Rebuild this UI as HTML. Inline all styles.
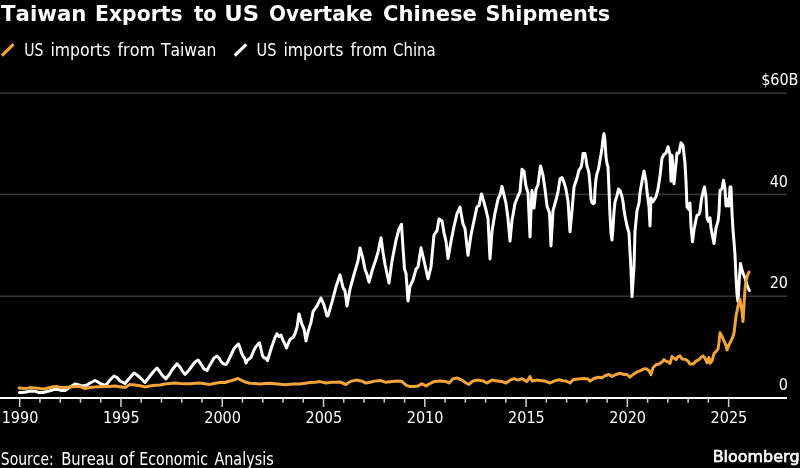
<!DOCTYPE html>
<html><head><meta charset="utf-8"><style>
html,body{margin:0;padding:0;background:#000;}
body{width:800px;height:468px;overflow:hidden;position:relative;}
svg{position:absolute;left:0;top:0;display:block;will-change:transform;}
.t{font-family:"DejaVu Sans Condensed","DejaVu Sans","Liberation Sans",sans-serif;fill:#fff;}
</style></head><body>
<svg width="800" height="468" viewBox="0 0 800 468">
<rect width="800" height="468" fill="#000"/>
<text x="1.10" y="21" textLength="85.30" lengthAdjust="spacingAndGlyphs" style="font-family:'DejaVu Sans','Liberation Sans',sans-serif;font-weight:bold;font-size:21.3px;font-kerning:none" fill="#fff">Taiwan</text>
<text x="95.09" y="21" textLength="87.42" lengthAdjust="spacingAndGlyphs" style="font-family:'DejaVu Sans','Liberation Sans',sans-serif;font-weight:bold;font-size:21.3px;font-kerning:none" fill="#fff">Exports</text>
<text x="194.00" y="21" textLength="22.74" lengthAdjust="spacingAndGlyphs" style="font-family:'DejaVu Sans','Liberation Sans',sans-serif;font-weight:bold;font-size:21.3px;font-kerning:none" fill="#fff">to</text>
<text x="224.36" y="21" textLength="34.89" lengthAdjust="spacingAndGlyphs" style="font-family:'DejaVu Sans','Liberation Sans',sans-serif;font-weight:bold;font-size:21.3px;font-kerning:none" fill="#fff">US</text>
<text x="269.06" y="21" textLength="103.53" lengthAdjust="spacingAndGlyphs" style="font-family:'DejaVu Sans','Liberation Sans',sans-serif;font-weight:bold;font-size:21.3px;font-kerning:none" fill="#fff">Overtake</text>
<text x="383.01" y="21" textLength="93.81" lengthAdjust="spacingAndGlyphs" style="font-family:'DejaVu Sans','Liberation Sans',sans-serif;font-weight:bold;font-size:21.3px;font-kerning:none" fill="#fff">Chinese</text>
<text x="485.62" y="21" textLength="124.56" lengthAdjust="spacingAndGlyphs" style="font-family:'DejaVu Sans','Liberation Sans',sans-serif;font-weight:bold;font-size:21.3px;font-kerning:none" fill="#fff">Shipments</text>
<text x="24.30" y="56" textLength="19.14" lengthAdjust="spacingAndGlyphs" style="font-family:'DejaVu Sans Condensed','DejaVu Sans','Liberation Sans',sans-serif;font-weight:normal;font-size:17.3px;font-kerning:none" fill="#fff">US</text>
<text x="50.49" y="56" textLength="59.95" lengthAdjust="spacingAndGlyphs" style="font-family:'DejaVu Sans Condensed','DejaVu Sans','Liberation Sans',sans-serif;font-weight:normal;font-size:17.3px;font-kerning:none" fill="#fff">imports</text>
<text x="117.50" y="56" textLength="37.56" lengthAdjust="spacingAndGlyphs" style="font-family:'DejaVu Sans Condensed','DejaVu Sans','Liberation Sans',sans-serif;font-weight:normal;font-size:17.3px;font-kerning:none" fill="#fff">from</text>
<text x="161.00" y="56" textLength="55.45" lengthAdjust="spacingAndGlyphs" style="font-family:'DejaVu Sans Condensed','DejaVu Sans','Liberation Sans',sans-serif;font-weight:normal;font-size:17.3px;font-kerning:none" fill="#fff">Taiwan</text>
<text x="256.56" y="56" textLength="19.88" lengthAdjust="spacingAndGlyphs" style="font-family:'DejaVu Sans Condensed','DejaVu Sans','Liberation Sans',sans-serif;font-weight:normal;font-size:17.3px;font-kerning:none" fill="#fff">US</text>
<text x="283.49" y="56" textLength="59.95" lengthAdjust="spacingAndGlyphs" style="font-family:'DejaVu Sans Condensed','DejaVu Sans','Liberation Sans',sans-serif;font-weight:normal;font-size:17.3px;font-kerning:none" fill="#fff">imports</text>
<text x="350.50" y="56" textLength="36.72" lengthAdjust="spacingAndGlyphs" style="font-family:'DejaVu Sans Condensed','DejaVu Sans','Liberation Sans',sans-serif;font-weight:normal;font-size:17.3px;font-kerning:none" fill="#fff">from</text>
<text x="393.04" y="56" textLength="42.56" lengthAdjust="spacingAndGlyphs" style="font-family:'DejaVu Sans Condensed','DejaVu Sans','Liberation Sans',sans-serif;font-weight:normal;font-size:17.3px;font-kerning:none" fill="#fff">China</text>
<text x="0.83" y="464.5" textLength="52.85" lengthAdjust="spacingAndGlyphs" style="font-family:'DejaVu Sans Condensed','DejaVu Sans','Liberation Sans',sans-serif;font-weight:normal;font-size:16.8px;font-kerning:none" fill="#fff">Source:</text>
<text x="61.22" y="464.5" textLength="53.00" lengthAdjust="spacingAndGlyphs" style="font-family:'DejaVu Sans Condensed','DejaVu Sans','Liberation Sans',sans-serif;font-weight:normal;font-size:16.8px;font-kerning:none" fill="#fff">Bureau</text>
<text x="118.94" y="464.5" textLength="15.38" lengthAdjust="spacingAndGlyphs" style="font-family:'DejaVu Sans Condensed','DejaVu Sans','Liberation Sans',sans-serif;font-weight:normal;font-size:16.8px;font-kerning:none" fill="#fff">of</text>
<text x="139.36" y="464.5" textLength="68.67" lengthAdjust="spacingAndGlyphs" style="font-family:'DejaVu Sans Condensed','DejaVu Sans','Liberation Sans',sans-serif;font-weight:normal;font-size:16.8px;font-kerning:none" fill="#fff">Economic</text>
<text x="214.40" y="464.5" textLength="59.29" lengthAdjust="spacingAndGlyphs" style="font-family:'DejaVu Sans Condensed','DejaVu Sans','Liberation Sans',sans-serif;font-weight:normal;font-size:16.8px;font-kerning:none" fill="#fff">Analysis</text>
<text x="712.69" y="461.6" textLength="86.99" lengthAdjust="spacingAndGlyphs" style="font-family:'DejaVu Sans','Liberation Sans',sans-serif;font-weight:normal;font-size:15.0px;font-kerning:none" fill="#fff" stroke="#fff" stroke-width="0.6">Bloomberg</text>
<line x1="1.9" y1="55.7" x2="13.6" y2="44.2" stroke="#f2a33a" stroke-width="3.2"/>
<line x1="234.7" y1="55.7" x2="246.3" y2="44.3" stroke="#fff" stroke-width="3.2"/>
<g stroke="#353535" stroke-width="1.6">
<line x1="0" y1="93.3" x2="787" y2="93.3"/>
<line x1="0" y1="194.4" x2="787" y2="194.4"/>
<line x1="0" y1="296.3" x2="787" y2="296.3"/>
</g>
<g class="t" font-size="16" text-anchor="end">
<text x="788.6" y="85">$60</text>
<text x="788" y="186.7">40</text>
<text x="788" y="288.4">20</text>
<text x="788" y="390">0</text>
</g>
<text class="t" x="788.6" y="85" font-size="16">B</text>
<polyline points="19.5,392.5 22,392.5 26,392 30,391 35,391.2 39,392.6 43,392.5 46,391.7 50,390.8 54,389.5 58,389.5 62,390.5 65,390.5 70,387 75,384 79,385 82,386 87,385 91,382.5 95,380.5 98,382 101,384 104,385 106,385 110,380 114,376 117,377.5 120,381 125,383.5 130,377.5 134,373 137,375 140,377.5 145,382.5 150,376 154,371 157,368 160,372 162,375 166,378.8 169,375 172,370 177,363.75 180,367 182,370.6 185,374.4 189,370 192,366 195,362 198,360 201,364 204,369 207,370.5 209,366.6 212,361.5 214,358 217,356 219,358 221,361.5 223,363.6 226,364.5 228,361.5 230,357.2 232,353 234,348.7 236.5,345.7 238.5,344 240,347.8 241.5,353 243,356 244.5,358 246,363.2 247,360.6 249,358.9 251,357.6 252,354.8 254,350 256,346.6 258,344.2 259.5,342.8 261,349 262.5,355.8 264,357.7 266,358.2 267.5,360.6 269,355.8 271,349 273,343.3 275,337.5 277,333.7 279,336.5 281,335.1 283,340.4 285,344.2 286.5,348 288,344.2 290,339.4 293,337.5 295,333.7 297,327.5 299,314 302,324.5 304,328.8 306,341 308,332 311,322.4 313,311.7 317,305.9 320,300 321,298 324,305 327,316 328,315.7 332,302 336,286.8 340,274.8 343,287.6 345,290.8 347,306 350,289 354,274.5 358,260.9 360,248 363,259 365,269.4 367,274.5 369,282.2 372,271 376,259 378,252.3 381,237.8 383,252.3 385,264.3 389,283 392,260.9 396,240.4 399,229 401.5,224.3 403,247.8 404.5,269 406,273.4 408,301 410,286.3 413,280 416,269 418,267 421,247.8 424,260.6 428,278.8 431,267 434,235 437,230.7 439,218.9 442,221 444,232.8 446,241.4 448,258.5 451,241.4 454,226.4 457,213.6 460,207 463,224 465,228.5 468,255.3 471,235 474,220.6 477,206.7 479,205.6 481.5,193.9 484,202.4 486,210 488,218.5 490,259 492,231.3 495,213 498,199.2 500,195 502,186.4 504,195 506,203.5 508,218.5 510,241 512,220.6 515,203.5 518,196 520,191.7 522,169.3 524,171.4 526,186.4 528,192.8 530,237 531,210.6 532,190.6 534,208 536,189.4 538,184.7 540.5,165.9 543,175.3 545,189.4 547,205.9 549.5,213 551,245.9 553,210.6 556,200 558,191.8 560,178.8 562,177.6 564,182.4 566,189.4 568,201 570,231.8 572,210.6 574,187 577,178 579,170 581,167.3 582,162.7 583,153.6 585,153.6 586,159 587,166.4 588,169 589,173.6 590,184.5 591,199 592,202.7 593.5,203.6 594.5,202.7 595,190 596,179 597,173.6 598.5,169 600,160 601,154.5 602,148 603,139 604,133.6 605,141 606,157 607,163.6 608,167 609,190 610,215 611,233 612,240 613,228 614,212 615,202 617,195.6 618.5,189 620,190.5 622,196.6 623,201.7 624,209.8 625,216 627,226 629,233 630,251.8 631,269.7 632,296.7 634,267 635,231.3 637,210.8 639,203 640,192.8 642,181.3 644,171 646,181.3 647,191.5 649,207 650,226 651,198 653,201.8 656,196.7 658,189 660,176 662,158.2 664,154.4 666,153 668,146.7 670,154.4 671,181.3 672,155.6 674,183.8 675,173.6 677,153 679,153 681,142.8 683,145.4 685,163.3 686,181.3 687,207 689,209.5 690,203 691,226.4 692.5,241.8 694,229.8 696,219.6 697,215.3 699,214.4 700,211 701.5,199 703,192.2 704.5,187 706,197.4 707,217.9 708.5,221.3 710,217.9 711,228 713,238.4 714,243.5 716,228 718,221.3 719,212.7 720,190.5 722,188.8 723.5,180.3 725,188.8 726,205.9 727,199 728,205.9 729,205.9 730,187 731,187 732,212.7 733,229.8 734,241.8 735,255 736,277 737,294.2 738,301.5 739,284 740.5,263.5 742,270 743.2,273.5 745,278 747,285 749.3,290.5" fill="none" stroke="#fff" stroke-width="3" stroke-linejoin="round" stroke-linecap="round"/>
<polyline points="19,388 22,388.3 25,388.6 30,387.6 35,388 40,388.6 44,388.9 48,388 52,387 56,386.4 60,387.3 65,387.6 70,387 75,386.5 80,386.5 85,388.5 90,387.5 95,387 100,386.8 105,386.5 110,386.5 115,386 120,386.8 125,387.5 130,384.5 135,385 140,385.8 145,386.9 150,386 155,385.3 160,385 165,384 170,383.5 175,383 180,383.5 185,383.8 190,383.75 195,383.3 200,383 205,383.8 210,384.4 215,383.3 220,382.5 225,382.6 228,381.5 232,380.5 235,379.5 238,378.5 241,380 245,382 250,383.3 255,383.6 260,384 265,383.6 270,383.3 275,383.8 280,384.2 285,384.7 290,384.3 295,384 300,384 305,383.3 310,382.6 315,382.2 320,381.6 326,383 331,382.3 336,382.3 340,382 346,384.5 350,381.6 356,380.1 361,380.9 366,383 370,382.3 376,380.9 381,380.6 386,382.3 392,381.6 398,380.9 402,381.6 406,385.2 410,386.6 414,386.6 418,385.9 422,383.7 426,385.9 430,383.5 434,381.6 440,380.9 446,381.6 449,383 453,378.7 457,378 462,380.1 466,383 469,384.5 473,380.9 478,380.1 483,380.9 487,383 492,380.1 497,380.9 502,381.6 506,383 510,380.1 514,378.7 518,380.1 522,378.7 527,381.6 530,376.6 532,380.9 537,380.1 540,380.4 545,381.1 550,383 554,381.1 559,379.8 563,380.7 566,381.1 570,383 573,379.8 578,378.9 584,378.5 588,379.1 590,381.1 594,378.5 598,377.2 602,377.8 605,375.8 609,374.5 612,376.5 616,374.5 620,373.2 624,374.5 627,374.5 630,377.2 633,374.5 637,371.9 640,370.8 643,369.3 646,368.6 649,370.8 651,374.6 653,367.8 656,364.8 659,364 662,361.9 664,359.6 666,361.1 668,361.9 670,363.3 672,356.6 674,358.1 676,359.6 678,356.6 680,355.9 682,358.9 685,359.2 688,361.1 690,364.1 693,364.1 696,361.1 699,359.6 701,357.4 703,355.9 705,358.1 707,362.6 709,357.4 710,363.3 712,361.1 714,353.6 716,351.4 718,349.1 719,342.4 720,332.7 722,336.4 724,341 726,345.4 727,349.9 729,344.7 731,341 733,336.4 734,333 736,316.4 738,306 740,299.3 741,306 742,311.3 743,321.5 744,304.4 745,289 746,280.5 747.5,275.4 749,272" fill="none" stroke="#f2a33a" stroke-width="3" stroke-linejoin="round" stroke-linecap="round"/>
<rect x="0" y="397" width="787" height="2" fill="#fff"/>
<g stroke="#d0d0d0" stroke-width="1.5">
<line x1="19.70" y1="398" x2="19.70" y2="407"/><line x1="39.95" y1="398" x2="39.95" y2="402.7"/><line x1="60.21" y1="398" x2="60.21" y2="402.7"/><line x1="80.47" y1="398" x2="80.47" y2="402.7"/><line x1="100.72" y1="398" x2="100.72" y2="402.7"/><line x1="120.97" y1="398" x2="120.97" y2="407"/><line x1="141.23" y1="398" x2="141.23" y2="402.7"/><line x1="161.48" y1="398" x2="161.48" y2="402.7"/><line x1="181.74" y1="398" x2="181.74" y2="402.7"/><line x1="201.99" y1="398" x2="201.99" y2="402.7"/><line x1="222.25" y1="398" x2="222.25" y2="407"/><line x1="242.50" y1="398" x2="242.50" y2="402.7"/><line x1="262.76" y1="398" x2="262.76" y2="402.7"/><line x1="283.01" y1="398" x2="283.01" y2="402.7"/><line x1="303.27" y1="398" x2="303.27" y2="402.7"/><line x1="323.52" y1="398" x2="323.52" y2="407"/><line x1="343.78" y1="398" x2="343.78" y2="402.7"/><line x1="364.03" y1="398" x2="364.03" y2="402.7"/><line x1="384.29" y1="398" x2="384.29" y2="402.7"/><line x1="404.54" y1="398" x2="404.54" y2="402.7"/><line x1="424.80" y1="398" x2="424.80" y2="407"/><line x1="445.05" y1="398" x2="445.05" y2="402.7"/><line x1="465.31" y1="398" x2="465.31" y2="402.7"/><line x1="485.56" y1="398" x2="485.56" y2="402.7"/><line x1="505.82" y1="398" x2="505.82" y2="402.7"/><line x1="526.08" y1="398" x2="526.08" y2="407"/><line x1="546.33" y1="398" x2="546.33" y2="402.7"/><line x1="566.59" y1="398" x2="566.59" y2="402.7"/><line x1="586.84" y1="398" x2="586.84" y2="402.7"/><line x1="607.10" y1="398" x2="607.10" y2="402.7"/><line x1="627.35" y1="398" x2="627.35" y2="407"/><line x1="647.61" y1="398" x2="647.61" y2="402.7"/><line x1="667.86" y1="398" x2="667.86" y2="402.7"/><line x1="688.12" y1="398" x2="688.12" y2="402.7"/><line x1="708.37" y1="398" x2="708.37" y2="402.7"/><line x1="728.62" y1="398" x2="728.62" y2="407"/>
</g>
<g class="t" font-size="16">
<text x="20.00" y="423" text-anchor="middle">1990</text><text x="121.27" y="423" text-anchor="middle">1995</text><text x="222.55" y="423" text-anchor="middle">2000</text><text x="323.82" y="423" text-anchor="middle">2005</text><text x="425.10" y="423" text-anchor="middle">2010</text><text x="526.38" y="423" text-anchor="middle">2015</text><text x="627.65" y="423" text-anchor="middle">2020</text><text x="728.92" y="423" text-anchor="middle">2025</text>
</g>
</svg>
</body></html>
